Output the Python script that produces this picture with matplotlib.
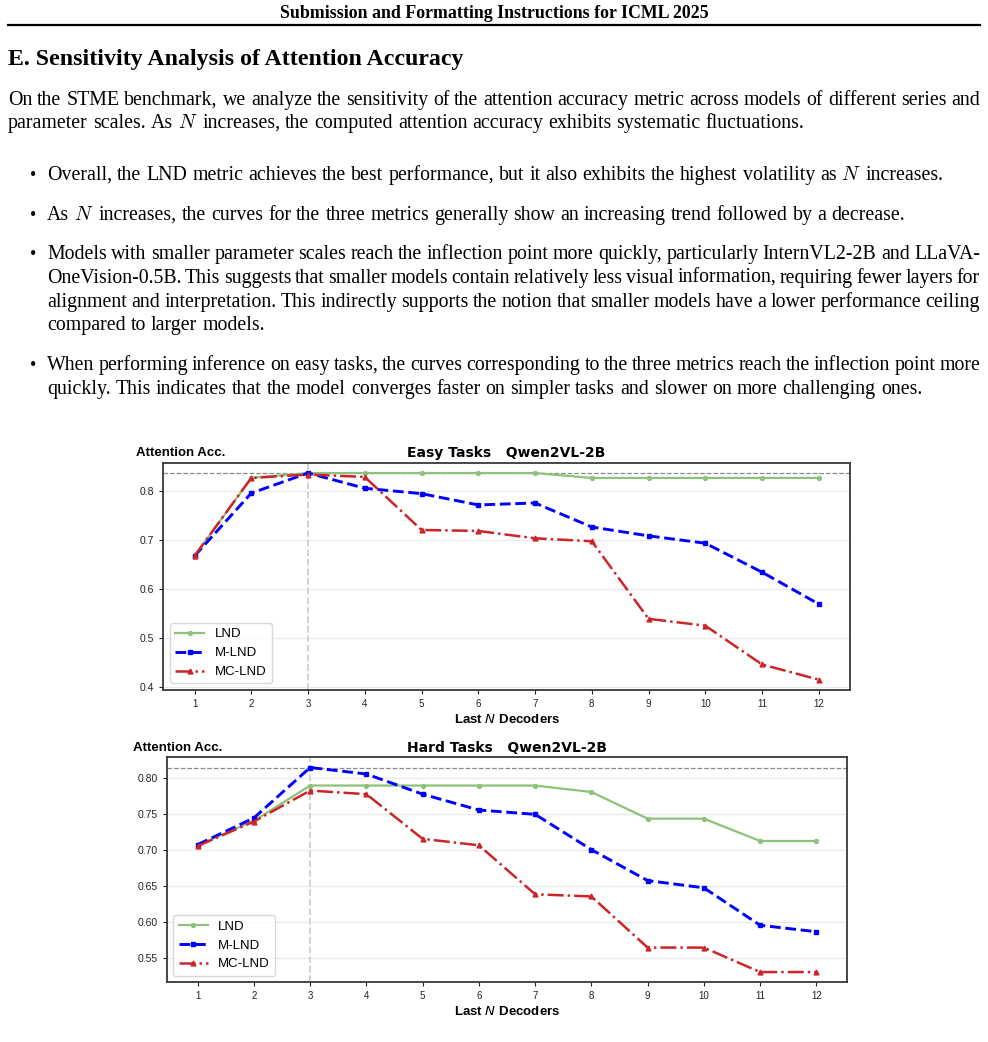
import numpy as np
import matplotlib
matplotlib.use("Agg")
import matplotlib.pyplot as plt
from matplotlib.lines import Line2D

matplotlib.rcParams["font.family"] = ["Liberation Sans", "DejaVu Sans"]
matplotlib.rcParams["axes.facecolor"] = "white"

W, H = 988, 1042

# chart data
layers = list(range(1, 13))
easy_lnd = [0.667, 0.826, 0.836, 0.836, 0.836, 0.836, 0.836, 0.826, 0.826, 0.826, 0.826, 0.826]
easy_mlnd = [0.667, 0.795, 0.836, 0.805, 0.794, 0.771, 0.775, 0.726, 0.708, 0.693, 0.634, 0.569]
easy_mclnd = [0.667, 0.826, 0.833, 0.828, 0.720, 0.718, 0.703, 0.697, 0.539, 0.525, 0.446, 0.415]
hard_lnd = [0.707, 0.741, 0.790, 0.790, 0.790, 0.790, 0.790, 0.781, 0.744, 0.744, 0.713, 0.713]
hard_mlnd = [0.708, 0.745, 0.815, 0.806, 0.778, 0.756, 0.750, 0.701, 0.658, 0.648, 0.596, 0.587]
hard_mclnd = [0.706, 0.740, 0.783, 0.778, 0.716, 0.707, 0.639, 0.636, 0.565, 0.565, 0.531, 0.531]
series_names = ["LND", "M-LND", "MC-LND"]
model_name = "Qwen2VL-2B"

# page text
header = "Submission and Formatting Instructions for ICML 2025"
heading = "E. Sensitivity Analysis of Attention Accuracy"
intro = [
    "On the STME benchmark, we analyze the sensitivity of the attention accuracy metric across models of different series and",
    "parameter scales. As $N$ increases, the computed attention accuracy exhibits systematic fluctuations.",
]
bullets = [
    ["Overall, the LND metric achieves the best performance, but it also exhibits the highest volatility as $N$ increases."],
    ["As $N$ increases, the curves for the three metrics generally show an increasing trend followed by a decrease."],
    ["Models with smaller parameter scales reach the inflection point more quickly, particularly InternVL2-2B and LLaVA-",
     "OneVision-0.5B. This suggests that smaller models contain relatively less visual information, requiring fewer layers for",
     "alignment and interpretation. This indirectly supports the notion that smaller models have a lower performance ceiling",
     "compared to larger models."],
    ["When performing inference on easy tasks, the curves corresponding to the three metrics reach the inflection point more",
     "quickly. This indicates that the model converges faster on simpler tasks and slower on more challenging ones."],
]

SERIF = "Liberation Serif"

fig = plt.figure(figsize=(W / 100, H / 100), dpi=100)
fig.patch.set_facecolor("white")
renderer = fig.canvas.get_renderer()


def text_width(s, size, **kw):
    t = fig.text(0, 0, s, fontsize=size, **kw)
    w = t.get_window_extent(renderer).width
    t.remove()
    return w


def fit_size(s, target, **kw):
    return 10 * target / text_width(s, 10, **kw)


def put_line(s, x0, x1, y, size, justify, **kw):
    # one Text per word so the line can be spread out to both margins
    words = s.split(" ")
    widths = [text_width(w, size, **kw) for w in words]
    if justify and len(words) > 1:
        gap = (x1 - x0 - sum(widths)) / (len(words) - 1)
    else:
        gap = text_width("a a", size, **kw) - text_width("aa", size, **kw)
    x = x0
    yb = round(y)
    for w, wd in zip(words, widths):
        fig.text(x / W, (H - yb) / H, w, fontsize=size, ha="left", va="baseline", **kw)
        x += wd + gap


body_kw = dict(family=SERIF, math_fontfamily="cm")

# header + rule
hsize = fit_size(header, 429, family=SERIF, weight="bold")
fig.text(494 / W, 1 - 18 / H, header, fontsize=hsize, family=SERIF, weight="bold",
         ha="center", va="baseline")
fig.add_artist(Line2D([8 / W, 980 / W], [1 - 25 / H] * 2, lw=1.6, color="black",
                      transform=fig.transFigure))

# section heading
tsize = fit_size(heading, 455, family=SERIF, weight="bold")
fig.text(8 / W, 1 - 65 / H, heading, fontsize=tsize, family=SERIF, weight="bold",
         ha="left", va="baseline")

# body text
bsize = fit_size(intro[1], 794, **body_kw)
put_line(intro[0], 8, 980, 105, bsize, True, **body_kw)
put_line(intro[1], 8, 980, 128, bsize, False, **body_kw)

bullet_tops = [180, 220, 259, 370]
for lines, y0 in zip(bullets, bullet_tops):
    fig.text(33 / W, (H - y0) / H, "\u2022", fontsize=bsize * 0.9, family=SERIF,
             ha="center", va="baseline")
    for i, line in enumerate(lines):
        last = i == len(lines) - 1
        put_line(line, 47, 980, y0 + i * 23.8, bsize, not last, **body_kw)


def draw_panel(rect, task, lnd, mlnd, mclnd, acc_x):
    ax = fig.add_axes(rect)
    ax.plot(layers, lnd, color="#8cc27a", lw=1.6, marker="o", ms=2.8, label=series_names[0])
    ax.plot(layers, mlnd, color="#0000ff", lw=2.1, ls="--", marker="s", ms=3.2, label=series_names[1])
    ax.plot(layers, mclnd, color="#cc2529", lw=1.8, ls="-.", marker="^", ms=3.5, label=series_names[2])

    allv = np.array([lnd, mlnd, mclnd])
    peak = allv.max()
    peak_x = layers[int(np.argmax(allv.max(axis=0)))]
    ax.axhline(peak, color="#8a8a8a", ls="--", lw=0.9, zorder=1)
    ax.axvline(peak_x, color="#cfcfcf", ls="--", lw=1.3, zorder=1)

    ax.set_xticks(layers)
    ax.grid(axis="y", color="#e9e9e9", lw=0.9)
    ax.set_axisbelow(True)
    for sp in ax.spines.values():
        sp.set_color("#383838")
        sp.set_linewidth(1.3)
    ax.tick_params(length=3, width=0.8, colors="#222222")
    ax.tick_params(axis="y", labelsize=7.5)
    ax.tick_params(axis="x", labelsize=7)

    ax.set_title(f"{task}   {model_name}", family="DejaVu Sans", weight="bold",
                 fontsize=10, pad=4)
    ax.text(acc_x, 1.015, "Attention Acc.", transform=ax.transAxes, fontsize=9.5,
            weight="bold", ha="left", va="bottom")
    ax.set_xlabel("Last $N$ Decoders", fontsize=9.5, weight="bold",
                  math_fontfamily="dejavusans", labelpad=3)
    ax.legend(loc="lower left", fontsize=9.5, handlelength=2.2, edgecolor="#d0d0d0")
    return ax


draw_panel([163.3 / W, 1 - 690 / H, 686.7 / W, 227.3 / H], "Easy Tasks",
           easy_lnd, easy_mlnd, easy_mclnd, -0.04)
draw_panel([166.7 / W, 1 - 982.3 / H, 680.6 / W, 225 / H], "Hard Tasks",
           hard_lnd, hard_mlnd, hard_mclnd, -0.049)

fig.savefig("out.png", dpi=100, facecolor="white")
